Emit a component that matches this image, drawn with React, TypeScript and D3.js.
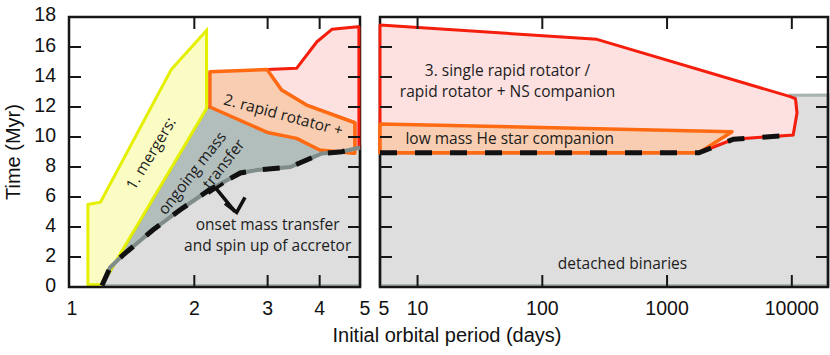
import * as d3 from 'd3'

// axis ticks
const yTicks = [0, 2, 4, 6, 8, 10, 12, 14, 16, 18]
const yInnerTicks = [2, 4, 6, 8, 10, 12, 14, 16]
const leftTicks = [1, 2, 3, 4, 5]
const leftInnerTicks = [2, 3, 4]
const rightTicks = [5, 10, 100, 1000, 10000]
const rightInnerTicks = [10, 100, 1000, 10000]

// regions, [period (days), time (Myr)]
const mergers = [[1.11, 0.15], [1.11, 5.5], [1.19, 5.65], [1.76, 14.5], [2.14, 17.1], [2.14, 11.9], [1.2, 0.15]]
const ongoingTop = [[1.2, 0.1], [2.14, 11.9], [2.18, 12.0], [3.0, 10.3], [3.52, 9.91], [4.0, 9.13], [4.4, 9.0]]
const onsetLeft = [[1.2, 0.1], [1.255, 1.3], [1.35, 2.15], [1.59, 3.8], [1.85, 5.15], [2.18, 6.5], [2.58, 7.6], [2.83, 7.8], [3.4, 8.0], [4.05, 8.9], [4.52, 9.02], [5, 9.3]]
const rapidLeft = [[2.18, 14.35], [2.99, 14.5], [3.24, 13.13], [3.72, 12.13], [4.86, 10.95], [4.86, 8.91], [4.82, 8.91], [4.0, 9.13], [3.52, 9.91], [3.0, 10.3], [2.18, 12.0]]
const singleLeft = [[2.99, 14.5], [3.52, 14.58], [3.94, 16.35], [4.28, 17.18], [4.93, 17.35], [4.97, 17.35], [4.97, 9.25], [4.86, 9.25], [4.86, 10.95], [3.72, 12.13], [3.24, 13.13]]

const onsetRight = [[5, 8.95], [1800, 8.95], [3400, 9.85], [10250, 10.13]]
const singleRight = [[5, 17.47], [274, 16.51], [9730, 12.69], [10700, 12.55], [11000, 11.6], [10250, 10.13], [3400, 9.85], [1800, 8.95], [5, 8.95]]
const companionRight = [[5, 10.87], [3320, 10.35], [1800, 8.95], [5, 8.95]]
const detachedRightTop = [[11000, 11.6], [10700, 12.55], [10000, 12.78], [19500, 12.8], [19500, 0.1], [5, 0.1]]

// onset arrow
const arrowBar = [[2.161, 6.25], [2.348, 6.91]]
const arrowStem = [[2.255, 6.58], [2.504, 5.02]]
const arrowHead = [[2.37, 5.58], [2.528, 4.98], [2.647, 5.98]]

const leftLabels = [
	{ text: '1. mergers:', x: 1.572, y: 8.9, angle: -59, mid: true },
	{ text: 'ongoing mass', x: 1.974, y: 7.6, angle: -52, mid: true },
	{ text: 'transfer', x: 2.35, y: 8.21, angle: -52, mid: true },
	{ text: '2. rapid rotator +', x: 3.275, y: 11.47, angle: 15, mid: true },
	{ text: 'onset mass transfer', x: 3.0, y: 3.77, angle: 0, mid: false },
	{ text: 'and spin up of accretor', x: 3.0, y: 2.43, angle: 0, mid: false },
]
const rightLabels = [
	{ text: '3. single rapid rotator /', x: 52.6, y: 14.1, angle: 0, mid: false },
	{ text: 'rapid rotator + NS companion', x: 52.6, y: 12.7, angle: 0, mid: false },
	{ text: 'low mass He star companion', x: 54.8, y: 9.53, angle: 0, mid: false },
	{ text: 'detached binaries', x: 439.5, y: 1.18, angle: 0, mid: false },
]

const width = 830
const height = 355

const y = d3.scaleLinear().domain([0, 18]).range([287, 17])
const xL = d3.scaleLog().domain([1, 5]).range([69, 360])
const xR = d3.scaleLog().domain([5, 19500]).range([380, 828])

const lineL = d3.line<number[]>().x((d) => xL(d[0])).y((d) => y(d[1]))
const lineR = d3.line<number[]>().x((d) => xR(d[0])).y((d) => y(d[1]))
const area = (gen: any, pts: number[][]) => gen(pts) + 'Z'

const axisFont = "'Liberation Sans', Arial, sans-serif"
const noteFont = "'Open Sans', sans-serif"

const cGrayFill = '#dedede'
const cGrayEdge = '#a7b3b1'
const cDarkFill = '#b2bebc'
const cDarkEdge = '#7f8c8a'
const cYellowFill = '#fafcc4'
const cYellow = '#e4f000'
const cPinkFill = '#fde1e1'
const cRed = '#f51d0c'
const cOrangeFill = '#f8cdb1'
const cOrange = '#ff6a12'

function Frame({ x0, x1 }: { x0: number; x1: number }) {
	const top = y(18)
	const bottom = y(0)
	return <rect x={x0} y={top} width={x1 - x0} height={bottom - top} fill="none" stroke="#161616" strokeWidth={2.5} />
}

function Ticks({ x0, x1, xs, inner }: { x0: number; x1: number; xs: any; inner: number[] }) {
	const top = y(18)
	const bottom = y(0)
	return (
		<g stroke="#161616" strokeWidth={2}>
			{yInnerTicks.map((t) => (
				<g key={'y' + t}>
					<line x1={x0} x2={x0 + 12} y1={y(t)} y2={y(t)} />
					<line x1={x1 - 12} x2={x1} y1={y(t)} y2={y(t)} />
				</g>
			))}
			{inner.map((t) => (
				<g key={'x' + t}>
					<line x1={xs(t)} x2={xs(t)} y1={top} y2={top + 12} />
					<line x1={xs(t)} x2={xs(t)} y1={bottom - 12} y2={bottom} />
				</g>
			))}
		</g>
	)
}

function Labels({ items, xs }: { items: any[]; xs: any }) {
	return (
		<g fontFamily={noteFont} fontSize={15.5} fill="#1c1c1c" textAnchor="middle">
			{items.map((d) => (
				<text
					key={d.text}
					transform={`translate(${xs(d.x)},${y(d.y)}) rotate(${d.angle})`}
					dy={d.mid ? '0.35em' : 0}
				>
					{d.text}
				</text>
			))}
		</g>
	)
}

export default function App() {
	const detachedLeft = [...onsetLeft, [5, 0.1]]
	const ongoing = [...ongoingTop, ...onsetLeft.slice().reverse()]
	const detachedRight = [...onsetRight, ...detachedRightTop]

	return (
		<div style={{ position: 'absolute', left: 0, top: 0 }}>
			<svg width={width} height={height} style={{ display: 'block', background: '#fff' }}>
				{/* left panel fills */}
				<path d={area(lineL, detachedLeft)} fill={cGrayFill} stroke={cGrayEdge} strokeWidth={3} />
				<path d={area(lineL, ongoing)} fill={cDarkFill} stroke={cDarkEdge} strokeWidth={2.5} />
				<path d={area(lineL, mergers)} fill={cYellowFill} stroke={cYellow} strokeWidth={3} />

				{/* right panel fills */}
				<path d={area(lineR, detachedRight)} fill={cGrayFill} stroke={cGrayEdge} strokeWidth={3} />

				<Frame x0={69} x1={360} />
				<Frame x0={380} x1={828} />

				<path d={area(lineL, singleLeft)} fill={cPinkFill} stroke={cRed} strokeWidth={3} strokeLinejoin="round" />
				<path d={area(lineL, rapidLeft)} fill={cOrangeFill} stroke={cOrange} strokeWidth={3.5} strokeLinejoin="round" />
				<path d={area(lineR, singleRight)} fill={cPinkFill} stroke={cRed} strokeWidth={3} strokeLinejoin="round" />
				<path d={area(lineR, companionRight)} fill={cOrangeFill} stroke={cOrange} strokeWidth={3.5} strokeLinejoin="round" />

				{/* onset of mass transfer */}
				<path d={lineL(onsetLeft) || ''} fill="none" stroke={cDarkEdge} strokeWidth={4} />
				<path d={lineL(onsetLeft) || ''} fill="none" stroke="#111" strokeWidth={5} strokeDasharray="17 17" />
				<path d={lineR(onsetRight) || ''} fill="none" stroke="#111" strokeWidth={5} strokeDasharray="17 18" />

				<g stroke="#111" strokeWidth={3.5} fill="none">
					<path d={lineL(arrowBar) || ''} />
					<path d={lineL(arrowStem) || ''} />
					<path d={lineL(arrowHead) || ''} />
				</g>

				<Ticks x0={69} x1={360} xs={xL} inner={leftInnerTicks} />
				<Ticks x0={380} x1={828} xs={xR} inner={rightInnerTicks} />

				<Labels items={leftLabels} xs={xL} />
				<Labels items={rightLabels} xs={xR} />

				{/* axis labels */}
				<g fontFamily={axisFont} fontSize={19.5} fill="#111">
					{yTicks.map((t) => (
						<text key={t} x={56} y={y(t) - (t === 18 ? 3 : 2)} dy="0.35em" textAnchor="end">
							{t}
						</text>
					))}
					{leftTicks.map((t) => (
						<text key={'l' + t} x={xL(t) + (t === 5 ? 5 : t === 1 ? 3 : 0)} y={315} textAnchor="middle">
							{t}
						</text>
					))}
					{rightTicks.map((t) => (
						<text key={'r' + t} x={xR(t) + (t === 5 ? 4 : 0)} y={315} textAnchor="middle">
							{t}
						</text>
					))}
				</g>
				<text
					transform="translate(13,152) rotate(-90)"
					dy="0.35em"
					textAnchor="middle"
					fontFamily={axisFont}
					fontSize={20}
					fill="#111"
				>
					Time (Myr)
				</text>
				<text x={447} y={342} textAnchor="middle" fontFamily={axisFont} fontSize={20} fill="#111">
					Initial orbital period (days)
				</text>
			</svg>
		</div>
	)
}
